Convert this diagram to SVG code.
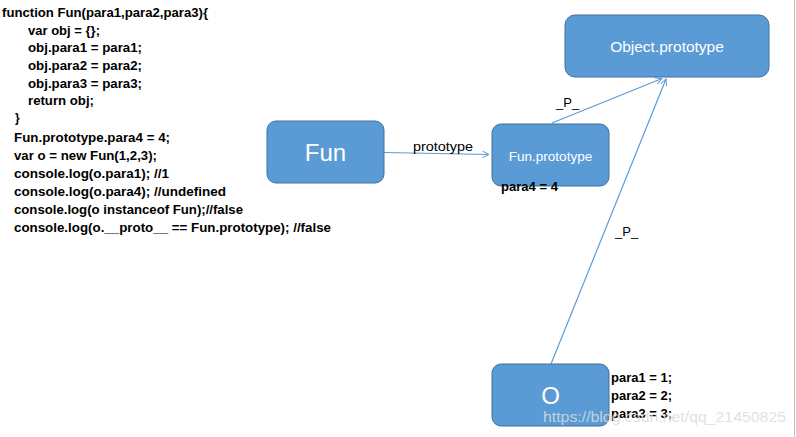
<svg xmlns="http://www.w3.org/2000/svg" width="796" height="437" viewBox="0 0 796 437">
<style>
.box{fill:#5B9BD5;stroke:#41719C;stroke-width:1}
.nt{fill:#ffffff;font-family:"Liberation Sans",Arial,sans-serif;text-anchor:middle}
.code{font-family:"Liberation Sans",Arial,sans-serif;font-weight:bold;font-size:12px;fill:#000}
.lbl{font-family:"Liberation Sans",Arial,sans-serif;font-size:13px;fill:#000}
.edge{stroke:#5B9BD5;stroke-width:1.2;fill:none}
</style>
<defs>
<marker id="arr" viewBox="0 0 10 10" refX="9" refY="5" markerWidth="8" markerHeight="8" orient="auto" markerUnits="userSpaceOnUse">
<path d="M1,1 L9,5 L1,9" fill="none" stroke="#5B9BD5" stroke-width="1.2"/>
</marker>
</defs>
<rect width="796" height="437" fill="#ffffff"/>
<line x1="794.5" y1="0" x2="794.5" y2="437" stroke="#c4c4cc" stroke-width="1"/>
<g id="code">
<text class="code" x="2" y="17" textLength="206" lengthAdjust="spacingAndGlyphs">function Fun(para1,para2,para3){</text>
<text class="code" x="28" y="35" textLength="72" lengthAdjust="spacingAndGlyphs">var obj = {};</text>
<text class="code" x="28" y="52" textLength="114" lengthAdjust="spacingAndGlyphs">obj.para1 = para1;</text>
<text class="code" x="28" y="70" textLength="114" lengthAdjust="spacingAndGlyphs">obj.para2 = para2;</text>
<text class="code" x="28" y="88" textLength="114" lengthAdjust="spacingAndGlyphs">obj.para3 = para3;</text>
<text class="code" x="28" y="105" textLength="66" lengthAdjust="spacingAndGlyphs">return obj;</text>
<text class="code" x="15" y="122">}</text>
<text class="code" x="14" y="142" textLength="156" lengthAdjust="spacingAndGlyphs">Fun.prototype.para4 = 4;</text>
<text class="code" x="14" y="160" textLength="143" lengthAdjust="spacingAndGlyphs">var o = new Fun(1,2,3);</text>
<text class="code" x="14" y="178" textLength="155" lengthAdjust="spacingAndGlyphs">console.log(o.para1); //1</text>
<text class="code" x="14" y="196" textLength="212" lengthAdjust="spacingAndGlyphs">console.log(o.para4); //undefined</text>
<text class="code" x="14" y="214" textLength="229" lengthAdjust="spacingAndGlyphs">console.log(o instanceof Fun);//false</text>
<text class="code" x="14" y="232" textLength="317" lengthAdjust="spacingAndGlyphs">console.log(o.__proto__ == Fun.prototype); //false</text>
</g>
<g id="connectors">
<line class="edge" x1="384" y1="152.5" x2="489" y2="154.5" marker-end="url(#arr)"/>
<line class="edge" x1="552" y1="123" x2="662" y2="78.5" marker-end="url(#arr)"/>
<line class="edge" x1="551" y1="364" x2="666" y2="79" marker-end="url(#arr)"/>
<text class="lbl" x="413" y="151" textLength="60" lengthAdjust="spacingAndGlyphs">prototype</text>
<text class="lbl" x="556" y="107">_P_</text>
<text class="lbl" x="615" y="236">_P_</text>
</g>
<g id="object-prototype">
<rect class="box" x="565" y="15" width="204" height="62" rx="10"/>
<text class="nt" x="667" y="52" font-size="15.5">Object.prototype</text>
</g>
<g id="fun">
<rect class="box" x="267" y="121" width="117" height="62" rx="9"/>
<text class="nt" x="325.5" y="161" font-size="24">Fun</text>
</g>
<g id="fun-prototype">
<rect class="box" x="492" y="124" width="117" height="62" rx="9"/>
<text class="nt" x="550.5" y="160.5" font-size="13.5">Fun.prototype</text>
<text class="code" x="501" y="191" textLength="57" lengthAdjust="spacingAndGlyphs">para4 = 4</text>
</g>
<g id="o">
<rect class="box" x="492" y="364" width="117" height="62" rx="9"/>
<text class="nt" x="550.5" y="404" font-size="24">O</text>
<text class="code" x="611" y="382" textLength="61" lengthAdjust="spacingAndGlyphs">para1 = 1;</text>
<text class="code" x="611" y="400" textLength="61" lengthAdjust="spacingAndGlyphs">para2 = 2;</text>
<text class="code" x="611" y="418" textLength="61" lengthAdjust="spacingAndGlyphs">para3 = 3;</text>
</g>
<text x="543" y="422" font-family="'Liberation Sans',Arial,sans-serif" font-size="15.5" fill="#dcdcdc" fill-opacity="0.85" textLength="243" lengthAdjust="spacingAndGlyphs">https://blog.csdn.net/qq_21450825</text>
</svg>
